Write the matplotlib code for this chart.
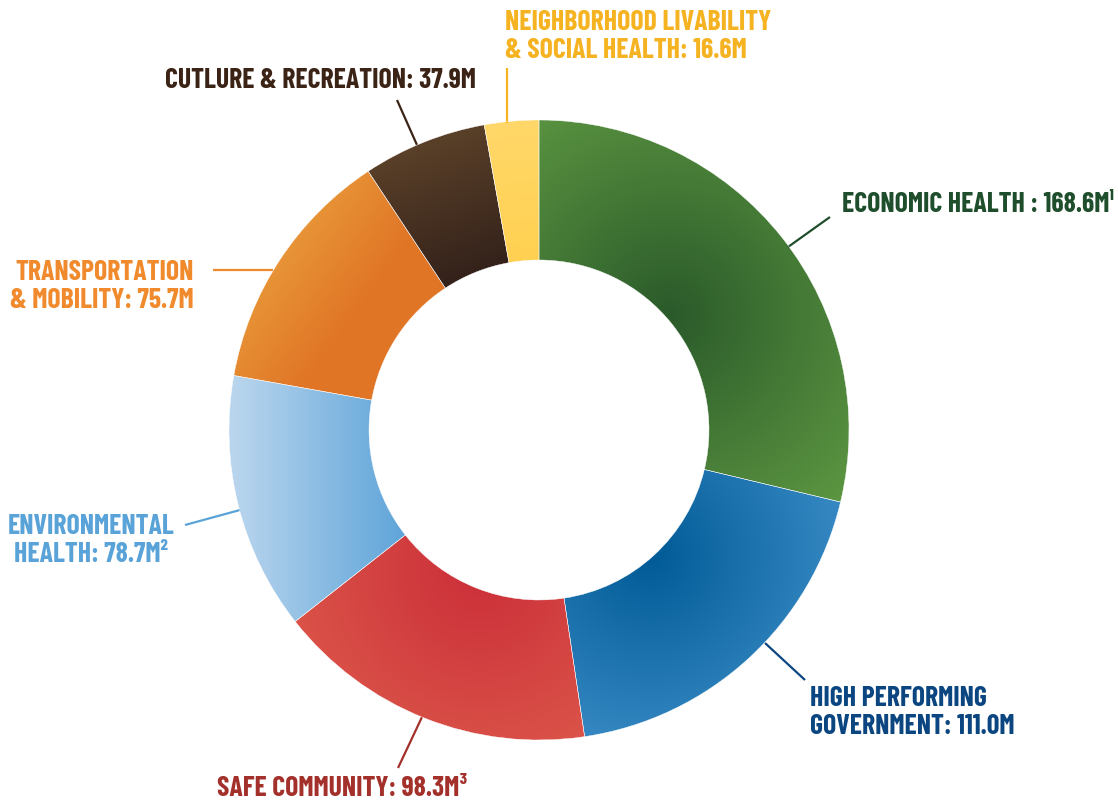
import numpy as np
import matplotlib
matplotlib.use('Agg')
import matplotlib.pyplot as plt

# budget areas, clockwise from 12 o'clock
categories = ['Economic Health', 'High Performing Government', 'Safe Community',
              'Environmental Health', 'Transportation & Mobility',
              'Culture & Recreation', 'Neighborhood Livability & Social Health']
values = [168.6, 111.0, 98.3, 78.7, 75.7, 37.9, 16.6]
labels = ['ECONOMIC HEALTH : 168.6M\u00b9',
          'HIGH PERFORMING\nGOVERNMENT: 111.0M',
          'SAFE COMMUNITY: 98.3M\u00b3',
          'ENVIRONMENTAL\nHEALTH: 78.7M\u00b2',
          'TRANSPORTATION\n& MOBILITY: 75.7M',
          'CUTLURE & RECREATION: 37.9M',
          'NEIGHBORHOOD LIVABILITY\n& SOCIAL HEALTH: 16.6M']
text_colors = ['#1f4e2c', '#0b4680', '#a3302a', '#5aa3d8', '#f08a2c', '#3b2416', '#f6b321']

# gradient fill per slice (pixel coords, y from top)
grads = [
    ('radial', (670, 315), 260, '#2a5a2a', '#5e9842'),
    ('radial', (650, 555), 210, '#005a96', '#3a8cc6'),
    ('radial', (480, 570), 200, '#cb2f39', '#db5449'),
    ('linear', (235, 450), (410, 450), '#b9d5ee', '#5ca3d8'),
    ('linear', (280, 230), (370, 295), '#e9993a', '#e07526'),
    ('linear', (430, 135), (480, 275), '#5b4129', '#33211a'),
    ('linear', (510, 120), (520, 265), '#ffd86a', '#ffd050'),
]

# label anchor (px), alignment, leader line (px)
label_pos = [(842, 204, 'left'), (810, 713, 'left'), (217, 788, 'left'),
             (91, 541, 'center'), (194, 286, 'right'), (165, 81, 'left'),
             (505, 36, 'left')]
leaders = [((788, 247), (830, 217)), ((765, 643), (805, 680)), ((422, 717), (398, 768)),
           ((185, 525), (240, 510)), ((213, 270), (273, 270)), ((397, 100), (417, 145)),
           ((507, 68), (507, 123))]

W, H = 1118, 800
font = 'Barlow Condensed'

fig = plt.figure(figsize=(W / 100, H / 100), dpi=100)
ax = fig.add_axes([0, 0, 1, 1])

wedges, _ = ax.pie(values, startangle=90, counterclock=False, radius=310,
                   center=(539, H - 430), colors=[g[3] for g in grads],
                   wedgeprops=dict(width=140, linewidth=0))

xx, yy = np.meshgrid(np.arange(W) + 0.5, np.arange(H) + 0.5)
for w, g in zip(wedges, grads):
    c0 = np.array(matplotlib.colors.to_rgb(g[3]))
    c1 = np.array(matplotlib.colors.to_rgb(g[4]))
    if g[0] == 'radial':
        t = np.hypot(xx - g[1][0], yy - g[1][1]) / g[2]
    else:
        dx, dy = g[2][0] - g[1][0], g[2][1] - g[1][1]
        t = ((xx - g[1][0]) * dx + (yy - g[1][1]) * dy) / (dx * dx + dy * dy)
    t = np.clip(t, 0, 1)[..., None]
    img = c0 + (c1 - c0) * t
    im = ax.imshow(img, extent=(0, W, 0, H), origin='upper', zorder=2)
    im.set_clip_path(w)
    w.set_facecolor('none')
    w.set_edgecolor('white')
    w.set_linewidth(0.3)
    w.set_zorder(3)

for lab, col, (x, y, ha), (p0, p1) in zip(labels, text_colors, label_pos, leaders):
    ax.text(x, H - y, lab, color=col, ha=ha, va='center', multialignment=ha,
            fontsize=20, fontweight='bold', family=font, linespacing=1.15)
    ax.plot([p0[0], p1[0]], [H - p0[1], H - p1[1]], color=col, lw=1.6,
            solid_capstyle='butt')

ax.set_xlim(0, W)
ax.set_ylim(0, H)
ax.set_aspect('equal')
ax.axis('off')
fig.savefig('out.png', dpi=100)
